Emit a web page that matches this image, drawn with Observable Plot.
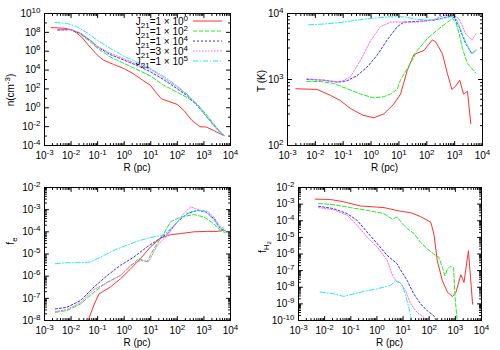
<!DOCTYPE html>
<html>
<head>
<meta charset="utf-8">
<script src="https://cdn.jsdelivr.net/npm/d3@7"></script>
<script src="https://cdn.jsdelivr.net/npm/@observablehq/plot@0.6"></script>
<style>
  html, body { margin: 0; padding: 0; background: #fff; }
  #chart { position: relative; width: 500px; height: 350px; font-family: "Liberation Sans", Arial, sans-serif; }
  .panel { position: absolute; width: 250px; height: 175px; }
</style>
</head>
<body>
<div id="chart"></div>
<script>
// ---------- data (log10 R [pc], log10 value) ----------
const xMajorExp = [-3, -2, -1, 0, 1, 2, 3, 4];
const nYMajorExp = [-4, -2, 0, 2, 4, 6, 8, 10];
const tYMajorExp = [2, 3, 4];
const feYMajorExp = [-8, -7, -6, -5, -4, -3, -2];
const fh2YMajorExp = [-10, -9, -8, -7, -6, -5, -4, -3, -2];

// legend: J21 = coef x 10^exp
const legendCoef = ["1", "1", "1", "3", "1"];
const legendExp = ["0", "2", "4", "4", "5"];

// number density n (cm^-3)
const nRed = [[-2.75,8.5],[-2.3,8.45],[-2.0,8.3],[-1.8,7.95],[-1.6,7.5],[-1.35,6.65],[-1.0,5.55],[-0.78,5.05],[-0.4,4.6],[0,4.15],[0.35,3.6],[0.73,2.85],[1.0,2.35],[1.2,1.6],[1.4,0.95],[1.65,0.7],[2.0,0.35],[2.25,-0.3],[2.55,-1.35],[2.85,-2.0],[3.1,-2.05],[3.4,-2.45],[3.75,-2.95]];
const nGreen = [[-2.5,8.3],[-2.0,8.3],[-1.66,7.85],[-1.28,7.0],[-1.0,6.3],[-0.53,5.4],[0,4.7],[0.6,3.9],[1.0,3.35],[1.48,2.4],[2.0,1.65],[2.36,1.1],[2.74,0.4],[3.12,-0.8],[3.5,-2.2],[3.75,-2.95]];
const nBlue = [[-2.5,8.25],[-2.0,8.28],[-1.66,7.9],[-1.28,7.15],[-1.0,6.45],[-0.53,5.65],[0,5.05],[0.6,4.35],[1.0,3.8],[1.48,3.0],[2.0,2.0],[2.36,1.3],[2.74,0.25],[3.12,-1.0],[3.5,-2.25],[3.75,-2.95]];
const nMagenta = [[-2.5,8.25],[-2.0,8.3],[-1.66,7.95],[-1.28,7.2],[-1.0,6.5],[-0.53,5.8],[0,5.2],[0.6,4.5],[1.0,4.05],[1.48,3.2],[2.0,2.2],[2.36,1.4],[2.74,0.35],[3.12,-1.0],[3.5,-2.25],[3.75,-2.95]];
const nCyan = [[-2.6,9.05],[-2.16,8.95],[-1.78,8.6],[-1.4,7.95],[-1.0,7.15],[-0.53,6.3],[0,5.45],[0.6,4.7],[1.0,4.15],[1.48,3.35],[2.0,2.3],[2.36,1.45],[2.74,0.35],[3.12,-1.05],[3.5,-2.35],[3.75,-2.95]];

// temperature T (K)
const tRed = [[-2.7,2.86],[-1.94,2.85],[-1.46,2.76],[-1.1,2.68],[-0.74,2.56],[-0.3,2.46],[0.1,2.42],[0.46,2.48],[0.82,2.63],[1.06,2.78],[1.3,3.14],[1.54,3.38],[1.9,3.44],[2.2,3.6],[2.32,3.57],[2.56,3.39],[2.74,3.09],[2.9,2.85],[3.04,2.9],[3.18,2.99],[3.32,2.78],[3.46,2.82],[3.58,2.33]];
const tGreen = [[-2.3,2.97],[-1.82,2.97],[-1.34,2.94],[-0.86,2.86],[-0.38,2.78],[0.1,2.72],[0.46,2.74],[0.7,2.78],[0.94,2.85],[1.06,3.0],[1.3,3.16],[1.66,3.44],[2.02,3.62],[2.38,3.75],[2.74,3.87],[2.92,3.92],[3.04,3.87],[3.16,3.7],[3.28,3.47],[3.46,3.24],[3.76,3.1]];
const tBlue = [[-2.3,3.0],[-1.7,2.99],[-1.22,2.96],[-0.86,2.98],[-0.5,3.06],[-0.14,3.19],[0.22,3.37],[0.58,3.6],[0.94,3.8],[1.18,3.87],[1.66,3.88],[2.26,3.9],[2.86,3.96],[2.98,3.94],[3.16,3.8],[3.4,3.54],[3.62,3.39],[3.76,3.45]];
const tMagenta = [[-2.3,3.01],[-1.7,2.99],[-1.1,2.96],[-0.74,3.04],[-0.38,3.29],[0,3.6],[0.34,3.8],[0.7,3.87],[1.18,3.87],[1.66,3.87],[2.2,3.9],[2.62,3.97],[2.98,3.97],[3.16,3.92],[3.4,3.69],[3.62,3.6],[3.76,3.69]];
const tCyan = [[-2.24,3.83],[-1.7,3.84],[-0.98,3.87],[-0.14,3.92],[0.7,3.95],[1.18,3.95],[1.66,3.91],[2.26,3.9],[2.86,3.95],[3.0,3.96],[3.16,3.82],[3.4,3.56],[3.62,3.38],[3.76,3.44]];

// electron fraction f_e
const feRed = [[-1.45,-8.3],[-1.14,-7.3],[-0.95,-6.8],[-0.52,-6.49],[-0.14,-6.12],[0.24,-5.67],[0.61,-5.21],[0.99,-4.68],[1.37,-4.28],[1.74,-4.13],[2.12,-4.08],[2.62,-4.0],[3.12,-3.98],[3.5,-3.98],[3.8,-3.93]];
const feGreen = [[-2.59,-7.63],[-2.15,-7.55],[-1.64,-7.25],[-1.14,-6.72],[-0.64,-6.27],[-0.14,-5.97],[0.24,-5.54],[0.55,-5.2],[0.72,-5.3],[0.86,-5.35],[1.12,-4.76],[1.49,-4.08],[1.74,-3.55],[2.12,-3.33],[2.62,-3.22],[3.0,-3.33],[3.37,-3.63],[3.62,-3.93],[3.8,-4.04]];
const feBlue = [[-2.59,-7.48],[-2.15,-7.4],[-1.64,-7.1],[-1.14,-6.49],[-0.64,-5.97],[-0.14,-5.51],[0.36,-5.14],[0.86,-4.68],[1.24,-4.38],[1.62,-4.08],[2.0,-3.55],[2.37,-3.18],[2.75,-3.03],[3.06,-3.1],[3.37,-3.4],[3.62,-3.86],[3.8,-3.93]];
const feMagenta = [[-2.59,-7.6],[-2.15,-7.5],[-1.64,-7.2],[-1.14,-6.6],[-0.64,-6.3],[-0.14,-5.97],[0.24,-5.5],[0.61,-5.29],[0.93,-5.33],[1.24,-4.61],[1.62,-4.16],[2.0,-3.55],[2.24,-3.18],[2.5,-2.87],[2.68,-2.95],[2.87,-3.03],[3.12,-3.07],[3.37,-3.33],[3.62,-3.78],[3.8,-3.86]];
const feCyan = [[-2.59,-5.44],[-2.15,-5.39],[-1.64,-5.39],[-1.27,-5.36],[-0.89,-5.14],[-0.39,-4.84],[0.0,-4.65],[0.5,-4.42],[1.0,-4.25],[1.49,-4.15],[1.74,-3.86],[2.12,-3.4],[2.5,-3.1],[2.87,-3.03],[3.12,-3.13],[3.37,-3.48],[3.62,-3.86],[3.8,-3.98]];

// molecular fraction f_H2
const fh2Red = [[-2.36,-2.7],[-1.78,-2.72],[-1.27,-2.86],[-0.63,-3.11],[0.27,-3.21],[0.9,-3.43],[1.29,-3.51],[1.67,-3.75],[2.06,-4.09],[2.18,-4.8],[2.31,-6.4],[2.5,-7.6],[2.7,-8.31],[2.89,-8.56],[3.02,-8.31],[3.21,-7.25],[3.33,-7.71],[3.5,-5.8],[3.66,-9.02]];
const fh2Green = [[-2.23,-2.96],[-1.66,-3.03],[-1.02,-3.21],[-0.38,-3.37],[0.27,-3.57],[0.59,-3.91],[0.78,-3.77],[0.97,-4.17],[1.16,-4.47],[1.42,-4.77],[1.67,-5.3],[1.93,-5.7],[2.18,-6.0],[2.37,-6.2],[2.5,-6.8],[2.6,-7.31],[2.7,-6.91],[2.8,-6.75],[2.93,-6.81],[2.99,-8.62],[3.08,-10.2]];
const fh2Blue = [[-2.23,-3.13],[-1.66,-3.27],[-1.14,-3.57],[-0.76,-3.97],[-0.38,-4.67],[0.01,-5.38],[0.39,-6.08],[0.78,-6.6],[0.9,-6.95],[1.16,-7.6],[1.41,-8.4],[1.67,-9.0],[1.93,-9.42],[2.18,-9.72],[2.3,-10.1]];
const fh2Magenta = [[-2.23,-3.21],[-1.66,-3.33],[-1.14,-3.67],[-0.76,-4.27],[-0.38,-4.97],[0.01,-5.58],[0.39,-6.38],[0.6,-7.3],[0.75,-7.65],[0.9,-7.75],[1.1,-8.21],[1.29,-9.0],[1.54,-9.52],[1.8,-9.82],[1.95,-10.1]];
const fh2Cyan = [[-2.17,-8.29],[-1.66,-8.39],[-1.27,-8.55],[-1.02,-8.45],[-0.5,-8.25],[0.01,-8.09],[0.52,-7.89],[0.7,-7.62],[0.85,-7.7],[0.97,-7.85],[1.1,-8.5],[1.23,-9.3],[1.35,-10.1]];

// ---------- styles ----------
const colors = ["#ff3030", "#20ee20", "#3030ff", "#ff66ff", "#20eeee"];
const dashes = [null, "4,2", "2,2", "1.5,1.5", "5,2,1,2"];
const lineWidth = 1;

const panels = [
  {series: [nRed, nGreen, nBlue, nMagenta, nCyan], yMajor: nYMajorExp, minorDecadesOnly: true,
   left: 0, top: 0, m: [13, 20, 30, 44], ylabel: "n", ylabelPos: [14, 90], legend: true},
  {series: [tRed, tGreen, tBlue, tMagenta, tCyan], yMajor: tYMajorExp, minorDecadesOnly: false,
   left: 250, top: 0, m: [13, 18, 30, 37], ylabel: "T", ylabelPos: [14.5, 81]},
  {series: [feRed, feGreen, feBlue, feMagenta, feCyan], yMajor: feYMajorExp, minorDecadesOnly: false,
   left: 0, top: 175, m: [12, 20, 30, 44], ylabel: "fe", ylabelPos: [13.5, 66]},
  {series: [fh2Red, fh2Green, fh2Blue, fh2Magenta, fh2Cyan], yMajor: fh2YMajorExp, minorDecadesOnly: false,
   left: 250, top: 175, m: [12, 19, 30, 48], ylabel: "fh2", ylabelPos: [15.5, 72]}
];

const tickShape = {draw(ctx, l) { ctx.moveTo(0, 0); ctx.lineTo(0, -l); }};

function minorTicks(majorExp, decadesOnly) {
  const out = [];
  const lo = Math.min(...majorExp), hi = Math.max(...majorExp);
  if (decadesOnly) {
    for (let e = lo; e <= hi; e++) if (!majorExp.includes(e)) out.push(Math.pow(10, e));
  } else {
    for (let e = lo; e < hi; e++) for (let k = 2; k <= 9; k++) out.push(k * Math.pow(10, e));
  }
  return out;
}

function tickMarks(values, len, axis) {
  const common = {length: len, anchor: "start", shape: tickShape, stroke: "black", strokeWidth: 1};
  if (axis === "x") return [
    Plot.vector(values, {...common, x: d => d, frameAnchor: "bottom", rotate: 0}),
    Plot.vector(values, {...common, x: d => d, frameAnchor: "top", rotate: 180})
  ];
  return [
    Plot.vector(values, {...common, y: d => d, frameAnchor: "left", rotate: 90}),
    Plot.vector(values, {...common, y: d => d, frameAnchor: "right", rotate: 270})
  ];
}

const fmt = d => "10^" + Math.round(Math.log10(d));

function supify(svg) {
  svg.querySelectorAll("text").forEach(t => {
    const m = /^10\^(-?\d+)$/.exec(t.textContent);
    if (!m) return;
    t.textContent = "";
    const ns = "http://www.w3.org/2000/svg";
    const a = document.createElementNS(ns, "tspan"); a.textContent = "10";
    const b = document.createElementNS(ns, "tspan"); b.textContent = m[1];
    b.setAttribute("dy", "-4"); b.setAttribute("font-size", "8");
    t.appendChild(a); t.appendChild(b);
  });
}

function addYLabel(svg, kind, pos) {
  const t = d3.select(svg).append("text")
    .attr("x", pos[0]).attr("y", pos[1])
    .attr("text-anchor", "middle")
    .attr("transform", `rotate(-90, ${pos[0]}, ${pos[1]})`)
    .attr("font-size", 10).attr("fill", "black");
  if (kind === "n") {
    t.append("tspan").text("n(cm");
    t.append("tspan").attr("dy", -4).attr("font-size", 8).text("-3");
    t.append("tspan").attr("dy", 4).text(")");
  } else if (kind === "T") {
    t.text("T (K)");
  } else if (kind === "fe") {
    t.append("tspan").text("f");
    t.append("tspan").attr("dy", 3).attr("font-size", 8).text("e");
  } else {
    t.append("tspan").text("f");
    t.append("tspan").attr("dy", 3).attr("font-size", 8).text("H");
    t.append("tspan").attr("dy", 2).attr("font-size", 6).text("2");
  }
}

function addXLabel(svg, spec) {
  const [mt, mr, mb, ml] = spec.m;
  d3.select(svg).append("text")
    .attr("x", ml + (250 - ml - mr) / 2).attr("y", 171)
    .attr("text-anchor", "middle").attr("font-size", 10).attr("fill", "black")
    .text("R (pc)");
}

function addLegend(svg) {
  const g = d3.select(svg).append("g");
  const rows = [21, 31, 41, 51, 61];
  rows.forEach((y, i) => {
    const t = g.append("text").attr("x", 188).attr("y", y + 3.5)
      .attr("text-anchor", "end").attr("font-size", 10).attr("fill", "black");
    t.append("tspan").text("J");
    t.append("tspan").attr("dy", 3).attr("font-size", 8).text("21");
    t.append("tspan").attr("dy", -3).text("=" + legendCoef[i] + " \u00d7 10");
    t.append("tspan").attr("dy", -4).attr("font-size", 8).text(legendExp[i]);
    const l = g.append("line").attr("x1", 193).attr("x2", 222).attr("y1", y).attr("y2", y)
      .attr("stroke", colors[i]).attr("stroke-width", lineWidth);
    if (dashes[i]) l.attr("stroke-dasharray", dashes[i]);
  });
}

const chart = document.getElementById("chart");
const xMajor = xMajorExp.map(e => Math.pow(10, e));
const xMinor = minorTicks(xMajorExp, false);

panels.forEach(spec => {
  const [mt, mr, mb, ml] = spec.m;
  const yMajor = spec.yMajor.map(e => Math.pow(10, e));
  const yMinor = minorTicks(spec.yMajor, spec.minorDecadesOnly);
  const yDomain = [Math.pow(10, Math.min(...spec.yMajor)), Math.pow(10, Math.max(...spec.yMajor))];
  const svg = Plot.plot({
    width: 250, height: 175,
    marginTop: mt, marginRight: mr, marginBottom: mb, marginLeft: ml,
    style: {fontFamily: "Liberation Sans, Arial, sans-serif", fontSize: "10px", overflow: "visible", background: "transparent"},
    x: {type: "log", domain: [1e-3, 1e4]},
    y: {type: "log", domain: yDomain},
    marks: [
      ...spec.series.map((s, i) => Plot.line(s, {
        x: d => Math.pow(10, d[0]), y: d => Math.pow(10, d[1]),
        stroke: colors[i], strokeWidth: lineWidth, strokeDasharray: dashes[i] || undefined, clip: true
      })),
      Plot.frame({stroke: "black", strokeWidth: 1}),
      ...tickMarks(xMajor, 4, "x"),
      ...tickMarks(xMinor, 2, "x"),
      ...tickMarks(yMajor, 4, "y"),
      ...tickMarks(yMinor, 2, "y"),
      Plot.axisX({ticks: xMajor, tickSize: 0, tickPadding: 6, tickFormat: fmt, label: null, fontSize: 10}),
      Plot.axisY({ticks: yMajor, tickSize: 0, tickPadding: 4, tickFormat: fmt, label: null, fontSize: 10})
    ]
  });
  supify(svg);
  addXLabel(svg, spec);
  addYLabel(svg, spec.ylabel, spec.ylabelPos);
  if (spec.legend) addLegend(svg);
  const div = document.createElement("div");
  div.className = "panel";
  div.style.left = spec.left + "px";
  div.style.top = spec.top + "px";
  div.appendChild(svg);
  chart.appendChild(div);
});
</script>
</body>
</html>
